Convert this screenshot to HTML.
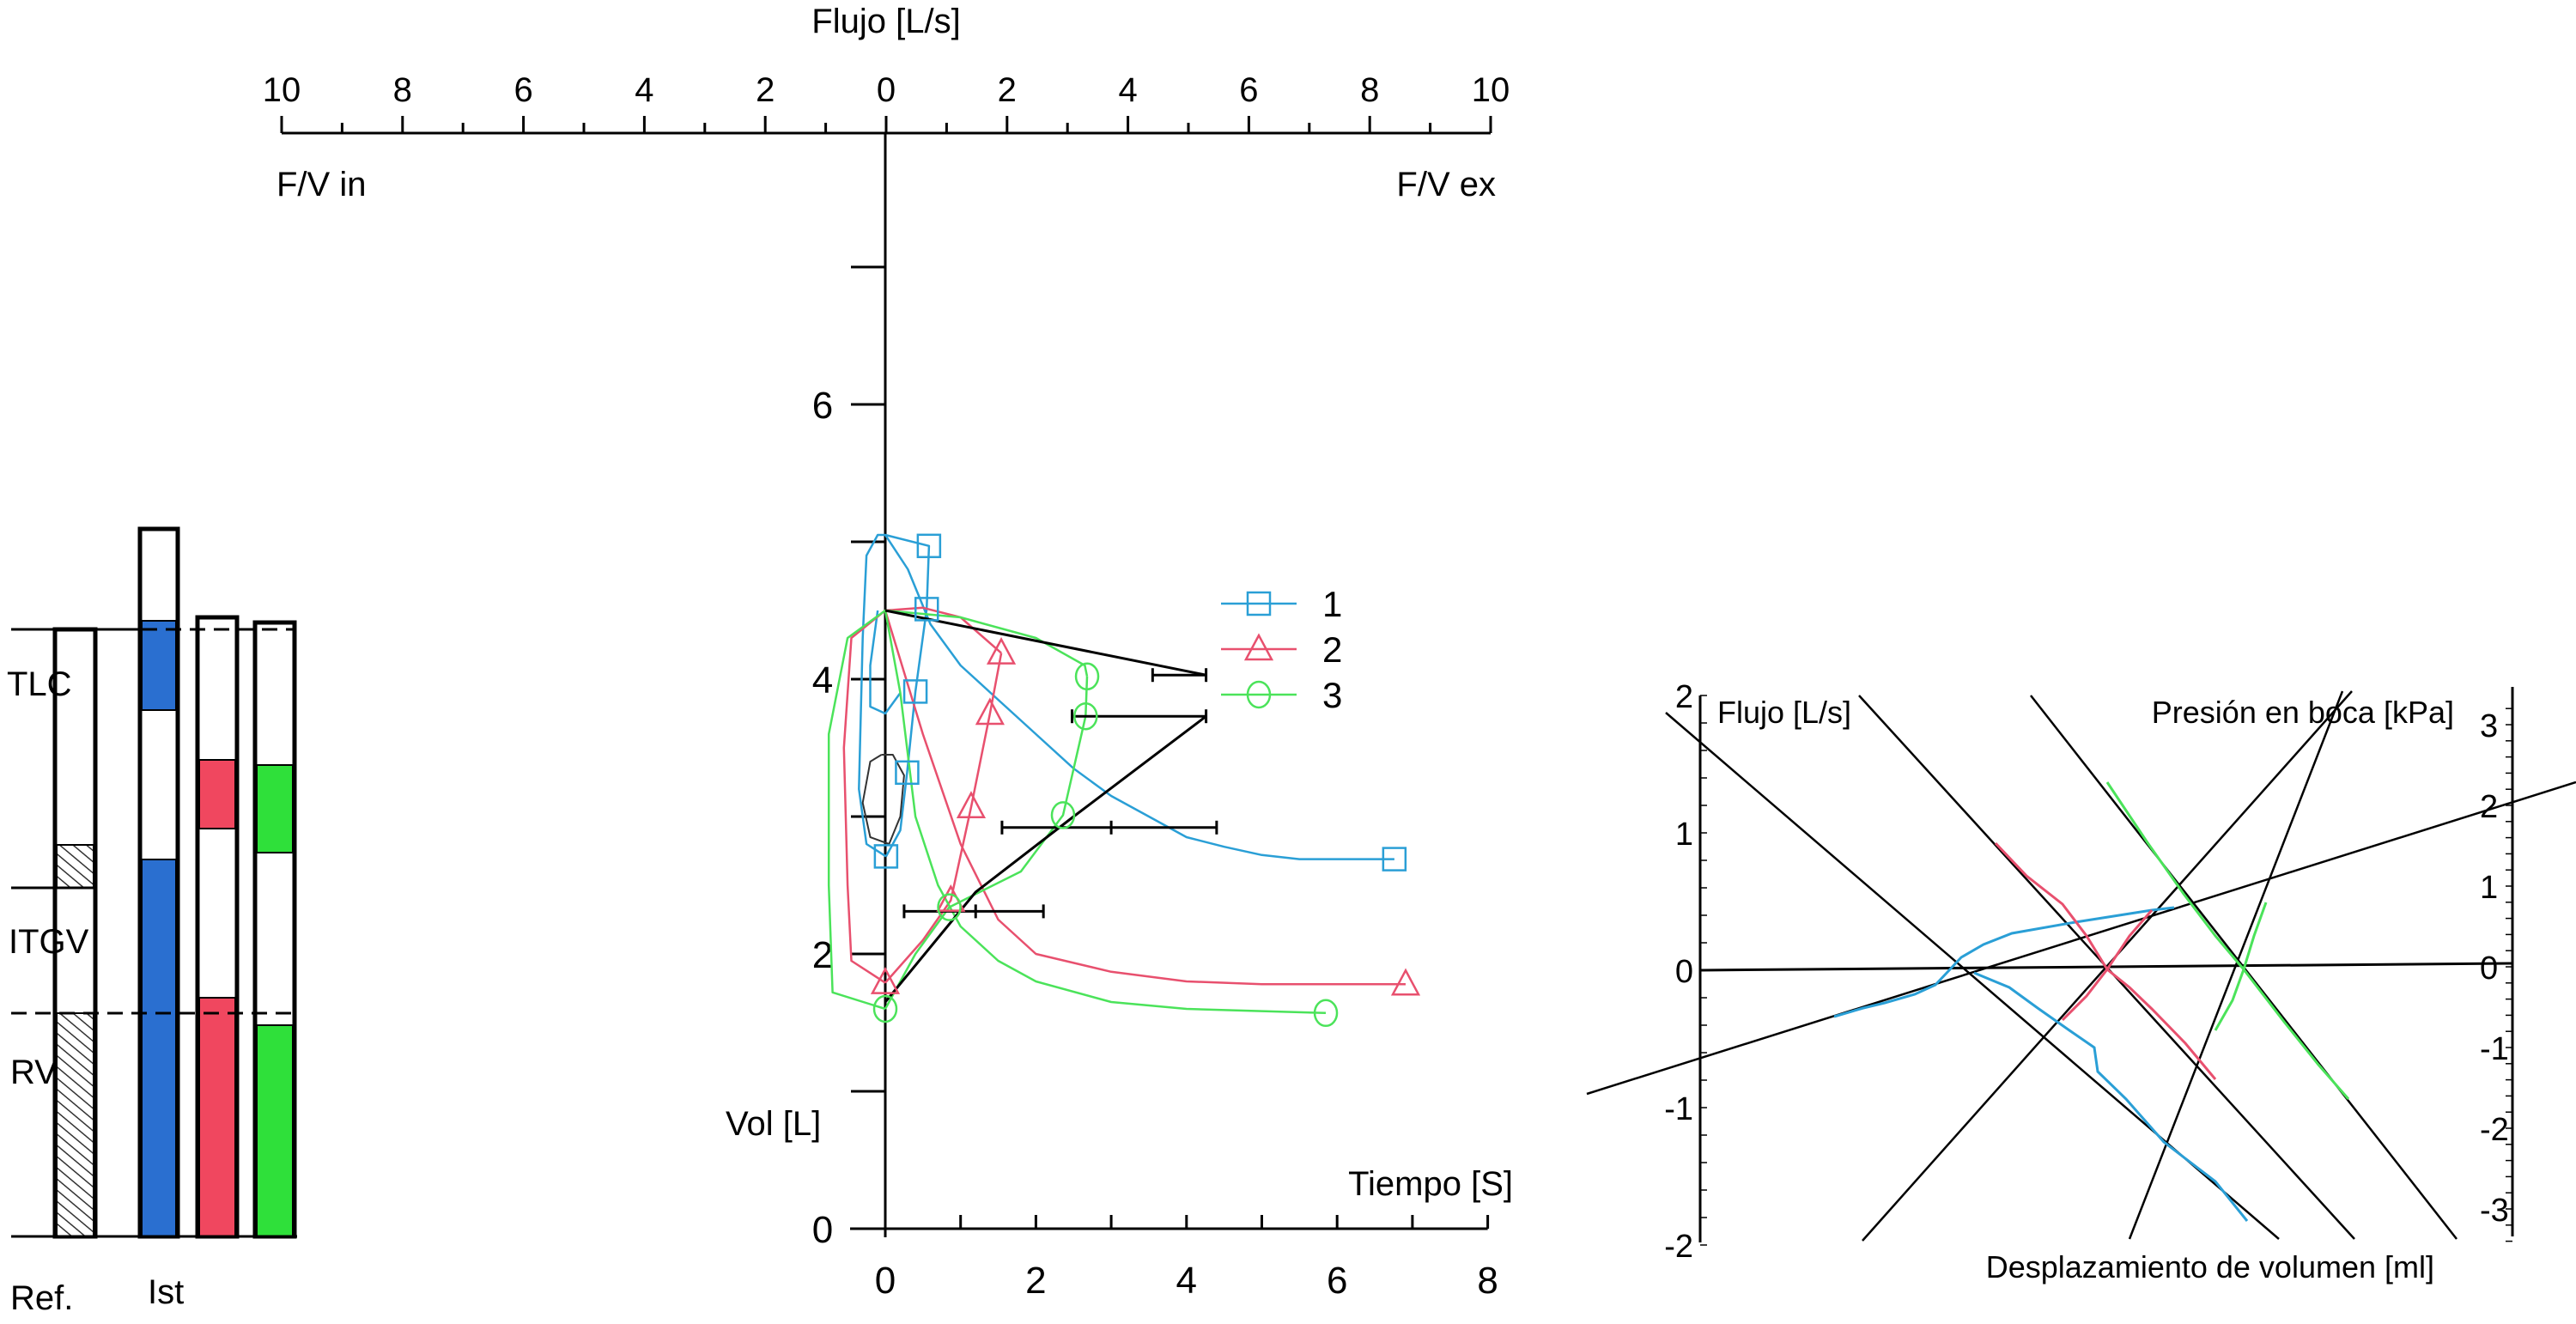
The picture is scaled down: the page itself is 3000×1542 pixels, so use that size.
<!DOCTYPE html>
<html><head><meta charset="utf-8"><style>
html,body{margin:0;padding:0;background:#fff;}
svg{display:block;font-family:"Liberation Sans",sans-serif;}
</style></head><body>
<svg id="c" width="3000" height="1542" viewBox="0 0 3000 1542">
<defs><pattern id="hatch" width="10" height="10" patternUnits="userSpaceOnUse" patternTransform="rotate(-50)"><rect width="10" height="10" fill="#fff"/><line x1="0" y1="0" x2="0" y2="10" stroke="#333" stroke-width="3"/></pattern></defs>
<g id="bars"></g>
<g id="mid"></g>
<g id="right"></g>
</svg>
<script>
// ---- Left bars data (litres-like positions in px-free units: fractions of top->bottom) ----
const barNames = ["Ref.", "Ist-1", "Ist-2", "Ist-3"];
const barTops = [733, 616, 719, 725];
const barSegments = [
  [[984,1034,"hatch"],[1180,1440,"hatch"]],
  [[723,827,"#2a6fd0"],[1001,1440,"#2a6fd0"]],
  [[885,965,"#f0475f"],[1162,1440,"#f0475f"]],
  [[891,993,"#2fe03a"],[1194,1440,"#2fe03a"]]
];
// ---- Middle chart data ----
const yTicks = [0,1,2,3,4,5,6,7];
const yLabels = [0,2,4,6];
const xTicks = [0,1,2,3,4,5,6,7,8];
const xLabels = [0,2,4,6,8];
const topTicks = [-10,-9,-8,-7,-6,-5,-4,-3,-2,-1,0,1,2,3,4,5,6,7,8,9,10];
const topLabels = [-10,-8,-6,-4,-2,0,2,4,6,8,10];
const s1Markers = [[0.58,4.97],[0.55,4.51],[0.4,3.91],[0.29,3.32],[0.01,2.71],[6.76,2.69]];
const s2Markers = [[1.54,4.19],[1.39,3.75],[1.14,3.07],[0.87,2.39],[0,1.79],[6.91,1.78]];
const s3Markers = [[2.68,4.02],[2.66,3.73],[2.36,3.01],[0.85,2.34],[0,1.6],[5.85,1.57]];
const s1Decay = [[0,5.05],[0.3,4.8],[0.6,4.4],[1.0,4.1],[1.5,3.85],[2,3.6],[2.5,3.35],[3,3.15],[3.5,3.0],[4,2.85],[4.5,2.78],[5,2.72],[5.5,2.69],[6.76,2.69]];
const s1Loop = [[0.01,2.71],[-0.25,2.8],[-0.35,3.2],[-0.3,4.3],[-0.25,4.9],[-0.1,5.05],[0,5.05],[0.58,4.97],[0.55,4.51],[0.4,3.91],[0.29,3.32],[0.2,2.9],[0.01,2.71]];
const s1Inner = [[-0.1,4.5],[-0.2,4.1],[-0.2,3.8],[0,3.75],[0.2,3.9]];
const s2Decay = [[0,4.5],[0.5,3.6],[1,2.8],[1.5,2.25],[2,2.0],[3,1.87],[4,1.8],[5,1.78],[6.91,1.78]];
const s2Loop = [[0,1.79],[-0.45,1.95],[-0.5,2.5],[-0.55,3.5],[-0.45,4.3],[0,4.5],[0.5,4.52],[1.0,4.45],[1.54,4.19]];
const s2Rise = [[0,1.79],[0.5,2.1],[0.87,2.39],[1.14,3.07],[1.39,3.75],[1.54,4.19]];
const s3Decay = [[0,4.5],[0.2,3.9],[0.4,3.0],[0.7,2.5],[1.0,2.2],[1.5,1.95],[2,1.8],[3,1.65],[4,1.6],[5.85,1.57]];
const s3Loop = [[0,1.6],[-0.7,1.72],[-0.75,2.5],[-0.75,3.6],[-0.5,4.3],[0,4.5],[1,4.45],[2,4.3],[2.65,4.1],[2.68,4.02]];
const s3Rise = [[0,1.6],[0.4,2.0],[0.85,2.34],[1.8,2.6],[2.36,3.01],[2.66,3.73],[2.68,4.02]];
const smallLoop = [[-0.05,3.45],[-0.2,3.4],[-0.3,3.1],[-0.2,2.85],[0.05,2.8],[0.2,3.0],[0.25,3.3],[0.1,3.45]];
const meanIn = [[0,4.5],[4.26,4.03]];
const meanRise = [[0,1.65],[1.2,2.45],[2.5,3.0],[4.26,3.73]];
const errBars = [[4.03,3.55,4.26,null],[3.73,2.48,4.26,null],[2.92,1.55,4.4,3.0],[2.31,0.25,2.1,1.2]];
const legendItems = ["1","2","3"];
// ---- Right chart data ----
const rLeftLabels = [2,1,0,-1,-2];
const rRightLabels = [3,2,1,0,-1,-2,-3];
const rLines = [[[1940,830],[2654,1443]],[[2165,810],[2742,1443]],[[2365,810],[2861,1443]],[[2169,1445],[2739,805]],[[2480,1443],[2728,805]],[[1848,1274],[3000,911]]];
const rBlue = [[2136,1184],[2170,1174],[2195,1168],[2230,1158],[2254,1147],[2270,1130],[2284,1115],[2310,1100],[2343,1087],[2417,1074],[2506,1060],[2532,1057]];
const rBlue2 = [[2299,1133],[2340,1150],[2373,1174],[2410,1200],[2439,1220],[2443,1248],[2476,1280],[2520,1330],[2580,1376],[2617,1422]];
const rRed = [[2324,982],[2360,1020],[2402,1053],[2430,1090],[2454,1129],[2480,1150],[2506,1175],[2545,1215],[2580,1257]];
const rRed2 = [[2402,1188],[2430,1160],[2454,1129],[2480,1090],[2506,1060]];
const rGreen = [[2454,911],[2500,980],[2543,1041],[2580,1090],[2613,1129],[2660,1190],[2700,1240],[2735,1280]];
const rGreen2 = [[2580,1200],[2600,1165],[2613,1129],[2625,1090],[2639,1051]];

const NS="http://www.w3.org/2000/svg";
function mk(parent,tag,attrs){const e=document.createElementNS(NS,tag);for(const k in attrs)e.setAttribute(k,attrs[k]);parent.appendChild(e);return e;}
function txt(parent,x,y,s,size,anchor){const t=mk(parent,"text",{x:x,y:y,"font-size":size,"text-anchor":anchor||"start",fill:"#000"});t.textContent=s;return t;}

// ---- bars ----
const B=document.getElementById("bars");
const barX=[[64,111],[163,207],[230,276],[297,343]];
barNames.forEach((n,i)=>{
  const g=mk(B,"g",{});
  
  
  const [x0,x1]=barX[i];
  mk(g,"rect",{x:x0,y:barTops[i],width:x1-x0,height:1440-barTops[i],fill:"#fff",stroke:"#000","stroke-width":5});
  barSegments[i].forEach(s=>{
    const r=mk(g,"rect",{x:x0+2,y:s[0],width:x1-x0-4,height:s[1]-s[0],fill:s[2]==="hatch"?"url(#hatch)":s[2],stroke:"#000","stroke-width":2});
    
    
  });
});
mk(B,"line",{x1:13,y1:733,x2:165,y2:733,stroke:"#000","stroke-width":3});
mk(B,"line",{x1:165,y1:733,x2:345,y2:733,stroke:"#000","stroke-width":3,"stroke-dasharray":"18 10"});
mk(B,"line",{x1:13,y1:1034,x2:111,y2:1034,stroke:"#000","stroke-width":3});
mk(B,"line",{x1:13,y1:1180,x2:345,y2:1180,stroke:"#000","stroke-width":3,"stroke-dasharray":"18 10"});
mk(B,"line",{x1:13,y1:1440,x2:346,y2:1440,stroke:"#000","stroke-width":3});
[["TLC",8,810],["ITGV",10,1110],["RV",12,1262],["Ref.",12,1525],["Ist",172,1518]].forEach(l=>{
  const t=txt(B,l[1],l[2],l[0],40);
  
  
});

// ---- middle chart ----
const M=document.getElementById("mid");
const X0=1031, PX=87.7, Y0=1431, PY=160, TX0=1032, TPX=70.4;
const sx=t=>X0+t*PX, sy=v=>Y0-v*PY, tx=f=>TX0+f*TPX;
mk(M,"line",{x1:sx(0),y1:155,x2:sx(0),y2:Y0+10,stroke:"#000","stroke-width":3});
mk(M,"line",{x1:990,y1:Y0,x2:sx(8),y2:Y0,stroke:"#000","stroke-width":3});
yTicks.forEach(v=>{const l=mk(M,"line",{x1:sx(0)-40,y1:sy(v),x2:sx(0),y2:sy(v),stroke:"#000","stroke-width":3});});
yLabels.forEach(v=>{const t=txt(M,958,sy(v)+16,String(v),44,"middle");});
xTicks.forEach(t=>{const l=mk(M,"line",{x1:sx(t),y1:Y0,x2:sx(t),y2:Y0-16,stroke:"#000","stroke-width":3});});
xLabels.forEach(t=>{const e=txt(M,sx(t),Y0+75,String(t),44,"middle");});
// top axis
mk(M,"line",{x1:tx(-10),y1:155,x2:tx(10),y2:155,stroke:"#000","stroke-width":3});
topTicks.forEach(f=>{const l=mk(M,"line",{x1:tx(f),y1:155,x2:tx(f),y2:f%2===0?135:143,stroke:"#000","stroke-width":3});});
topLabels.forEach(f=>{const e=txt(M,tx(f),118,String(Math.abs(f)),40,"middle");});
[["Flujo [L/s]",1032,38,"middle","top-axis-title"],["F/V in",322,228,"start","fv-in-label"],["F/V ex",1742,228,"end","fv-ex-label"],["Vol [L]",845,1322,"start","y-axis-title"],["Tiempo [S]",1762,1392,"end","x-axis-title"]].forEach(l=>{
  const e=txt(M,l[1],l[2],l[0],40,l[3]);
});
function pth(pts,color,w,name,fx,fy){
  const d=pts.map((p,i)=>(i?"L":"M")+fx(p[0]).toFixed(1)+","+fy(p[1]).toFixed(1)).join(" ");
  const e=mk(M,"path",{d:d,fill:"none",stroke:color,"stroke-width":w,"stroke-linejoin":"round"});
  return e;
}
const C1="#2a9fd6",C2="#e8506e",C3="#4be35a";
pth(s1Decay,C1,2.5,"series-1-time-curve",sx,sy);
pth(s1Loop,C1,2.5,"series-1-loop",sx,sy);
pth(s1Inner,C1,2.5,"series-1-inner",sx,sy);
pth(s2Decay,C2,2.5,"series-2-time-curve",sx,sy);
pth(s2Loop,C2,2.5,"series-2-loop",sx,sy);
pth(s2Rise,C2,2.5,"series-2-rise",sx,sy);
pth(s3Decay,C3,2.5,"series-3-time-curve",sx,sy);
pth(s3Loop,C3,2.5,"series-3-loop",sx,sy);
pth(s3Rise,C3,2.5,"series-3-rise",sx,sy);
pth(smallLoop.concat([smallLoop[0]]),"#333",2,"small-loop",sx,sy);
pth(meanIn,"#000",3,"mean-line-top",sx,sy);
pth(meanRise,"#000",3,"mean-line-rise",sx,sy);
errBars.forEach(b=>{
  const g=mk(M,"g",{});
  mk(g,"line",{x1:sx(b[1]),y1:sy(b[0]),x2:sx(b[2]),y2:sy(b[0]),stroke:"#000","stroke-width":3});
  [b[1],b[2]].concat(b[3]!==null?[b[3]]:[]).forEach(t=>mk(g,"line",{x1:sx(t),y1:sy(b[0])-8,x2:sx(t),y2:sy(b[0])+8,stroke:"#000","stroke-width":3}));
});
function marker(g,x,y,type,color){
  if(type===0) return mk(g,"rect",{x:x-13,y:y-13,width:26,height:26,fill:"none",stroke:color,"stroke-width":2.5});
  if(type===1) return mk(g,"polygon",{points:`${x},${y-16} ${x-15},${y+12} ${x+15},${y+12}`,fill:"none",stroke:color,"stroke-width":2.5});
  return mk(g,"ellipse",{cx:x,cy:y,rx:13,ry:15,fill:"none",stroke:color,"stroke-width":2.5});
}
[[s1Markers,C1],[s2Markers,C2],[s3Markers,C3]].forEach((s,k)=>{
  s[0].forEach(p=>{const m=marker(M,sx(p[0]),sy(p[1]),k,s[1]);});
});
legendItems.forEach((n,i)=>{
  const g=mk(M,"g",{});
  const y=703+i*53, col=[C1,C2,C3][i];
  mk(g,"line",{x1:1422,y1:y,x2:1510,y2:y,stroke:col,"stroke-width":2.5});
  marker(g,1466,y,i,col);
  txt(g,1540,y+15,n,42);
});

// ---- right chart ----
const R=document.getElementById("right");
mk(R,"line",{x1:1980,y1:810,x2:1980,y2:1447,stroke:"#000","stroke-width":3});
mk(R,"line",{x1:2926,y1:800,x2:2926,y2:1440,stroke:"#000","stroke-width":3});
mk(R,"line",{x1:1980,y1:1130,x2:2926,y2:1122,stroke:"#000","stroke-width":3});
const rl=v=>1130-v*160, rr=v=>1126-v*94;
for(let v=-2;v<=2.001;v+=0.2){mk(R,"line",{x1:1980,y1:rl(v),x2:1988,y2:rl(v),stroke:"#000","stroke-width":1.5});}
for(let v=-3.4;v<=3.4;v+=0.2){mk(R,"line",{x1:2918,y1:rr(v),x2:2926,y2:rr(v),stroke:"#000","stroke-width":1.5});}
rLeftLabels.forEach(v=>{const e=txt(R,1972,rl(v)+14,String(v),38,"end");});
rRightLabels.forEach(v=>{const e=txt(R,2888,rr(v)+14,String(v),38,"start");});
rLines.forEach(l=>{const e=mk(R,"line",{x1:l[0][0],y1:l[0][1],x2:l[1][0],y2:l[1][1],stroke:"#000","stroke-width":2.5});});
const id=v=>v;
function rp(pts,col,name){const d=pts.map((p,i)=>(i?"L":"M")+p[0]+","+p[1]).join(" ");const e=mk(R,"path",{d:d,fill:"none",stroke:col,"stroke-width":3});}
rp(rBlue,C1,"blue-trace");rp(rBlue2,C1,"blue-trace-2");
rp(rRed,C2,"red-trace");rp(rRed2,C2,"red-trace-2");
rp(rGreen,C3,"green-trace");rp(rGreen2,C3,"green-trace-2");
[["Flujo [L/s]",2000,842,"start","left-axis-title"],["Presión en boca [kPa]",2858,842,"end","right-axis-title"],["Desplazamiento de volumen [ml]",2835,1488,"end","x-axis-title-right"]].forEach(l=>{
  const e=txt(R,l[1],l[2],l[0],36,l[3]);
});
</script>
</body></html>
